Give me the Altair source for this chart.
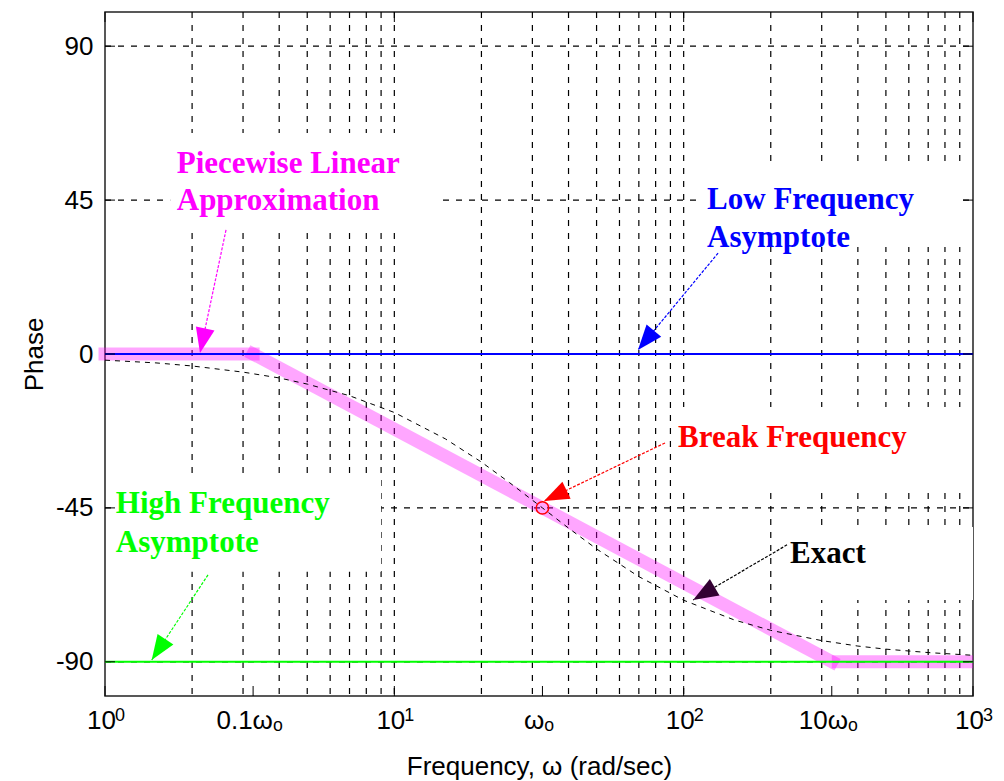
import math
import altair as alt
import pandas as pd

W, H = 868, 684
X_DOMAIN = [1, 1000]
Y_DOMAIN = [-100, 100]

# ---- grid / ticks ----
grid_freqs = [2, 3, 4, 5, 6, 7, 8, 9, 10, 20, 30, 40, 50, 60, 70, 80, 90,
              100, 200, 300, 400, 500, 600, 700, 800, 900]
grid_phases = [-90, -45, 0, 45, 90]
tick_values = [1, 3.25, 10, 32.5, 100, 325, 1000]
tick_labels = ["10", "0.1ωₒ", "10", "ωₒ", "10", "10ωₒ", "10"]
decade_ticks = [1, 10, 100, 1000]
decade_exponents = ["0", "1", "2", "3"]
phase_ticks = [-90, -45, 0, 45, 90]

# ---- curves ----
pw_freq = [1, 3.25, 325, 1000]
pw_phase = [0, 0, -90, -90]

asym_names = ["low", "high"]
asym_phase = [0, -90]
asym_colors = ["#0000ff", "#00ff00"]

exact_freq = [1, 1.5, 2, 3, 4, 5, 7, 10, 15, 20, 25, 32.5, 40, 50, 70, 100,
              150, 200, 300, 400, 500, 700, 1000]
exact_phase = [-1.8, -2.6, -3.5, -5.3, -7.0, -8.8, -12.2, -17.1, -24.8, -31.6,
               -37.6, -45.0, -50.9, -57.0, -65.1, -72.0, -77.8, -80.8, -83.8,
               -85.4, -86.3, -87.3, -88.1]

break_freq = [32.5]
break_phase = [-45]

# ---- annotations ----
label_text = ["Piecewise Linear", "Approximation", "Low Frequency", "Asymptote",
              "Break Frequency", "Exact", "High Frequency", "Asymptote"]
label_freq = [1.77, 1.77, 120.5, 120.5, 95.6, 233, 1.09, 1.09]
label_phase = [53.0, 42.1, 42.4, 31.3, -27.2, -61.1, -46.5, -57.9]
label_color = ["#ff00ff", "#ff00ff", "#0000ff", "#0000ff", "#ff0000", "#000000",
               "#00ff00", "#00ff00"]

box_f1 = [1.68, 111, 93.4, 224, 1.07]
box_f2 = [14.4, 917, 985, 1000, 9.0]
box_p1 = [35.4, 31.3, -39.2, -71.9, -63.7]
box_p2 = [64.6, 54.7, -15.5, -50.6, -36.8]

arrow_f1 = [2.62, 131.5, 86.2, 227.7, 2.27]
arrow_p1 = [36.3, 29.5, -26.0, -55.8, -64.6]
arrow_f2 = [2.13, 69.5, 32.9, 107.8, 1.45]
arrow_p2 = [0.3, 1.2, -43.0, -71.9, -89.5]
arrow_color = ["#ff00ff", "#0000ff", "#ff0000", "#000000", "#00ff00"]
arrow_head_color = ["#ff00ff", "#0000ff", "#ff0000", "#330033", "#00ff00"]


def px(f):
    return W * math.log10(f) / 3.0


def py(p):
    return H * (100 - p) / 200.0


arrow_angle = []
for f1, p1, f2, p2 in zip(arrow_f1, arrow_p1, arrow_f2, arrow_p2):
    dx = px(f2) - px(f1)
    dy = py(p2) - py(p1)
    arrow_angle.append(math.degrees(math.atan2(dx, -dy)) % 360)

xs = alt.Scale(type="log", domain=X_DOMAIN, nice=False)
ys = alt.Scale(domain=Y_DOMAIN, nice=False, zero=False)

label_expr = "".join(
    f"abs(datum.value - {v}) < 0.001 ? '{l}' : " for v, l in zip(tick_values, tick_labels)
) + "''"

XA = alt.Axis(values=tick_values, labelExpr=label_expr, ticks=False, tickSize=0,
              domain=False, grid=False, labelFont="Liberation Sans",
              labelFontSize=26, labelColor="black", labelPadding=11, labelOffset=-4,
              labelFlush=False, labelOverlap=False, labelBound=False,
              title="Frequency, ω (rad/sec)", titleFont="Liberation Sans",
              titleFontSize=26, titleFontWeight="normal", titleColor="black",
              titleX=W / 2, titleY=78, titleBaseline="alphabetic",
              titleAlign="center")
YA = alt.Axis(values=phase_ticks, labelExpr="'' + datum.value", ticks=False,
              tickSize=0, domain=False, grid=False, labelFont="Liberation Sans",
              labelFontSize=26, labelColor="black", labelPadding=12,
              labelFlush=False, labelOverlap=False,
              title="Phase", titleFont="Liberation Sans", titleFontSize=26,
              titleFontWeight="normal", titleColor="black",
              titleX=-71, titleY=H / 2, titleAngle=270,
              titleBaseline="middle", titleAlign="center")


def X(field):
    return alt.X(field, scale=xs, axis=XA)


def Y(field):
    return alt.Y(field, scale=ys, axis=YA)


grid_v = alt.Chart(pd.DataFrame({"f": grid_freqs})).mark_rule(
    color="black", strokeWidth=1.2, strokeDash=[6, 7]
).encode(x=X("f:Q"), y=alt.value(0), y2=alt.value(H))

grid_h = alt.Chart(pd.DataFrame({"p": grid_phases})).mark_rule(
    color="black", strokeWidth=1.2, strokeDash=[6, 7]
).encode(y=Y("p:Q"), x=alt.value(0), x2=alt.value(W))

boxes = alt.Chart(pd.DataFrame({"f1": box_f1, "f2": box_f2, "p1": box_p1, "p2": box_p2})).mark_rect(
    color="white"
).encode(x=X("f1:Q"), x2="f2:Q", y=Y("p1:Q"), y2="p2:Q")

pw_df = pd.DataFrame({
    "f": [pw_freq[0], pw_freq[1], pw_freq[1], pw_freq[2]],
    "p": [pw_phase[0], pw_phase[1], pw_phase[1], pw_phase[2]],
    "seg": ["a", "a", "b", "b"],
})
pink = alt.Chart(pw_df).mark_line(
    color="#ff00ff", opacity=0.35, strokeWidth=13, strokeCap="square"
).encode(x=X("f:Q"), y=Y("p:Q"), detail="seg:N")
pink_end = alt.Chart(pd.DataFrame({"f": pw_freq[2:], "p": pw_phase[2:]})).mark_line(
    color="#ff00ff", opacity=0.35, strokeWidth=13, strokeCap="butt"
).encode(x=X("f:Q"), y=Y("p:Q"))

asym = alt.Chart(pd.DataFrame({"n": asym_names, "p": asym_phase, "c": asym_colors,
                               "f1": [X_DOMAIN[0]] * 2, "f2": [X_DOMAIN[1]] * 2})).mark_rule(
    strokeWidth=2
).encode(x=X("f1:Q"), x2="f2:Q", y=Y("p:Q"), color=alt.Color("c:N", scale=None))

exact = alt.Chart(pd.DataFrame({"f": exact_freq, "p": exact_phase})).mark_line(
    color="black", strokeWidth=1, strokeDash=[5, 5]
).encode(x=X("f:Q"), y=Y("p:Q"))

circle = alt.Chart(pd.DataFrame({"f": break_freq, "p": break_phase})).mark_point(
    shape="circle", size=154, color="red", strokeWidth=1.5, filled=False, opacity=1
).encode(x=X("f:Q"), y=Y("p:Q"))

arr_df = pd.DataFrame({"f1": arrow_f1, "p1": arrow_p1, "f2": arrow_f2, "p2": arrow_p2,
                       "c": arrow_color, "hc": arrow_head_color, "ang": arrow_angle})
arrow_lines = alt.Chart(arr_df).mark_rule(strokeWidth=1.2, strokeDash=[3, 1.5]).encode(
    x=X("f1:Q"), x2="f2:Q", y=Y("p1:Q"), y2="p2:Q",
    color=alt.Color("c:N", scale=None))
arrow_heads = alt.Chart(arr_df).mark_point(
    shape="M0,0L0.76,2L-0.76,2Z", filled=True, size=625, opacity=1, strokeWidth=0
).encode(x=X("f2:Q"), y=Y("p2:Q"),
         angle=alt.Angle("ang:Q", scale=None), color=alt.Color("hc:N", scale=None))

texts = alt.Chart(pd.DataFrame({"t": label_text, "f": label_freq, "p": label_phase,
                                "c": label_color})).mark_text(
    font="Liberation Serif", fontWeight="bold", fontSize=31, align="left",
    baseline="alphabetic"
).encode(x=X("f:Q"), y=Y("p:Q"), text="t:N", color=alt.Color("c:N", scale=None))

# exponents of the decade tick labels (10^0 ... 10^3)
exponents = alt.Chart(pd.DataFrame({"f": decade_ticks, "e": decade_exponents})).mark_text(
    font="Liberation Sans", fontSize=18, align="left", baseline="alphabetic",
    color="black", dx=10
).encode(x=X("f:Q"), y=alt.value(H + 25), text="e:N")

tick_bottom = alt.Chart(pd.DataFrame({"f": tick_values})).mark_rule(color="black").encode(
    x=X("f:Q"), y=alt.value(H - 10), y2=alt.value(H))
tick_top = alt.Chart(pd.DataFrame({"f": decade_ticks})).mark_rule(color="black").encode(
    x=X("f:Q"), y=alt.value(0), y2=alt.value(10))
tick_left = alt.Chart(pd.DataFrame({"p": phase_ticks})).mark_rule(color="black").encode(
    y=Y("p:Q"), x=alt.value(0), x2=alt.value(10))
tick_right = alt.Chart(pd.DataFrame({"p": phase_ticks})).mark_rule(color="black").encode(
    y=Y("p:Q"), x=alt.value(W - 10), x2=alt.value(W))

chart = alt.layer(
    grid_v, grid_h, boxes, pink, pink_end, asym, exact, circle,
    arrow_lines, arrow_heads, texts, exponents,
    tick_bottom, tick_top, tick_left, tick_right
).properties(
    width=W, height=H,
    autosize=alt.AutoSizeParams(type="none"),
    padding={"left": 97, "top": 4, "right": 23, "bottom": 85},
    background="white",
).configure_view(stroke="#222222", strokeWidth=1.5)

chart.save("out.html", embed_options={"renderer": "svg", "actions": False})
